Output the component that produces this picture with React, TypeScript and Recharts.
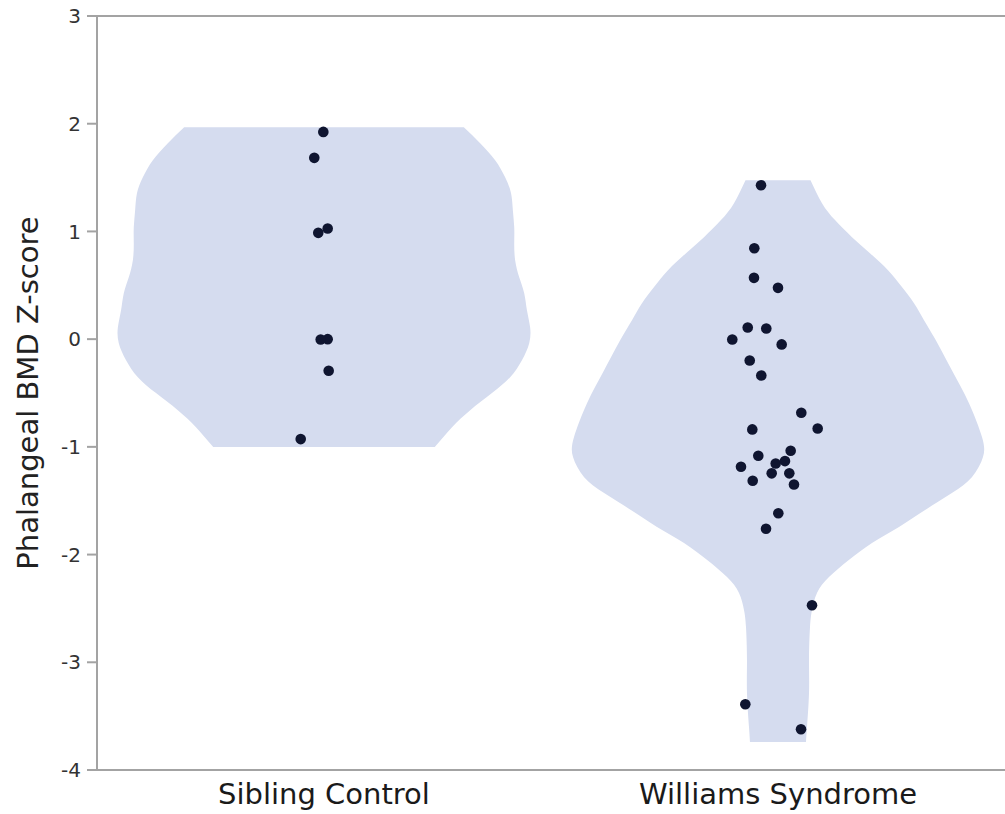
import React from 'react';
import { ComposedChart, Area, Scatter, XAxis, YAxis, ReferenceLine } from 'recharts';

// Categories and their positions on the (hidden) numeric category axis
const categories = ['Sibling Control', 'Williams Syndrome'];
const categoryCenters = [0.5, 1.5];
const yTicks = [-4, -3, -2, -1, 0, 1, 2, 3];

// Violin outlines: z-score levels and the violin half-width at each level (category units)
const siblingLevels = [1.967, 1.819, 1.661, 1.503, 1.355, 1.197, 1.039, 0.891, 0.733, 0.575, 0.427, 0.269, 0.111, -0.037, -0.195, -0.353, -0.501, -0.659, -0.817, -1.002];
const siblingHalfWidths = [0.308, 0.344, 0.377, 0.399, 0.412, 0.416, 0.419, 0.419, 0.421, 0.43, 0.441, 0.447, 0.454, 0.452, 0.436, 0.41, 0.37, 0.322, 0.282, 0.244];

const williamsLevels = [1.475, 1.262, 1.105, 0.947, 0.798, 0.64, 0.483, 0.334, 0.176, 0.019, -0.288, -0.594, -0.909, -1.095, -1.281, -1.429, -1.587, -1.744, -1.893, -2.051, -2.209, -2.357, -2.515, -2.673, -2.979, -3.285, -3.601, -3.74];
const williamsHalfWidths = [0.0716, 0.0969, 0.1256, 0.163, 0.2026, 0.2423, 0.273, 0.2996, 0.3216, 0.3436, 0.383, 0.4207, 0.4493, 0.4515, 0.427, 0.383, 0.324, 0.2665, 0.207, 0.156, 0.1123, 0.0859, 0.0749, 0.0705, 0.0683, 0.0683, 0.0639, 0.0617];

// Individual observations (z-scores) and their horizontal jitter (category units)
const siblingScores = [1.924, 1.683, 1.027, 0.987, 0.0, -0.003, -0.294, -0.928];
const siblingJitter = [-0.0015, -0.0214, 0.0081, -0.0126, 0.0081, -0.0073, 0.0103, -0.0513];

const williamsScores = [1.429, 0.844, 0.569, 0.476, 0.108, 0.099, -0.003, -0.049, -0.198, -0.337, -0.684, -0.829, -0.838, -1.083, -1.036, -1.185, -1.154, -1.132, -1.246, -1.246, -1.315, -1.349, -1.617, -1.76, -2.471, -3.39, -3.622];
const williamsJitter = [-0.0374, -0.0522, -0.0529, 0.0, -0.0667, -0.0258, -0.1007, 0.0081, -0.0623, -0.0368, 0.0513, 0.0874, -0.0566, -0.0434, 0.0279, -0.0815, -0.0051, 0.0154, -0.0139, 0.0249, -0.0557, 0.0352, 0.0007, -0.0264, 0.0749, -0.072, 0.0507];

const VIOLIN_FILL = '#d5dcef';
const POINT_FILL = '#0f1530';
const AXIS_COLOR = '#a3a3a3';
const FONT = "'DejaVu Sans', Verdana, sans-serif";

const buildViolin = (levels: number[], halfWidths: number[], center: number) =>
  levels
    .map((y, i) => ({ y, range: [center - halfWidths[i], center + halfWidths[i]] }))
    .sort((a, b) => a.y - b.y);

const buildPoints = (scores: number[], jitter: number[], center: number) =>
  scores.map((y, i) => ({ x: center + jitter[i], y }));

const siblingViolin = buildViolin(siblingLevels, siblingHalfWidths, categoryCenters[0]);
const williamsViolin = buildViolin(williamsLevels, williamsHalfWidths, categoryCenters[1]);
const allPoints = [
  ...buildPoints(siblingScores, siblingJitter, categoryCenters[0]),
  ...buildPoints(williamsScores, williamsJitter, categoryCenters[1]),
];

const Dot = (p: any) => <circle cx={p.cx} cy={p.cy} r={5.3} fill={POINT_FILL} />;

const YLabel = (props: any) => {
  const vb = props.viewBox || { x: 0, y: 0, width: 0, height: 0 };
  const cx = vb.x + 28;
  const cy = vb.y + vb.height / 2;
  return (
    <text
      x={cx}
      y={cy}
      transform={`rotate(-90, ${cx}, ${cy})`}
      textAnchor="middle"
      dominantBaseline="central"
      fontSize={29}
      fontFamily={FONT}
      fill="#222"
    >
      Phalangeal BMD Z-score
    </text>
  );
};

export default function App() {
  return (
    <div style={{ position: 'absolute', left: 0, top: 0, background: '#fff' }}>
      <ComposedChart
        width={1005}
        height={814}
        layout="vertical"
        margin={{ top: 16, right: 0, bottom: 0, left: 0 }}
      >
        <XAxis
          type="number"
          dataKey="x"
          domain={[0, 2]}
          allowDataOverflow
          ticks={categoryCenters}
          interval={0}
          tickFormatter={(v: number) => categories[categoryCenters.indexOf(v)] ?? ''}
          tickLine={false}
          tickSize={8}
          tickMargin={5}
          height={44}
          axisLine={{ stroke: AXIS_COLOR, strokeWidth: 2 }}
          tick={{ fill: '#1a1a1a', fontSize: 29, fontFamily: FONT }}
        />
        <YAxis
          type="number"
          dataKey="y"
          reversed
          domain={[-4, 3]}
          allowDataOverflow
          ticks={yTicks}
          interval={0}
          width={97}
          tickSize={10}
          tickMargin={6}
          axisLine={{ stroke: AXIS_COLOR, strokeWidth: 2 }}
          tickLine={{ stroke: AXIS_COLOR, strokeWidth: 2 }}
          tick={{ fill: '#333', fontSize: 20, fontFamily: FONT }}
          label={<YLabel />}
        />
        <ReferenceLine y={3} stroke={AXIS_COLOR} strokeWidth={2} />
        <Area
          data={siblingViolin}
          dataKey="range"
          type="natural"
          fill={VIOLIN_FILL}
          fillOpacity={1}
          stroke="none"
          dot={false}
          activeDot={false}
          isAnimationActive={false}
        />
        <Area
          data={williamsViolin}
          dataKey="range"
          type="natural"
          fill={VIOLIN_FILL}
          fillOpacity={1}
          stroke="none"
          dot={false}
          activeDot={false}
          isAnimationActive={false}
        />
        <Scatter data={allPoints} dataKey="y" shape={Dot} isAnimationActive={false} />
      </ComposedChart>
    </div>
  );
}
